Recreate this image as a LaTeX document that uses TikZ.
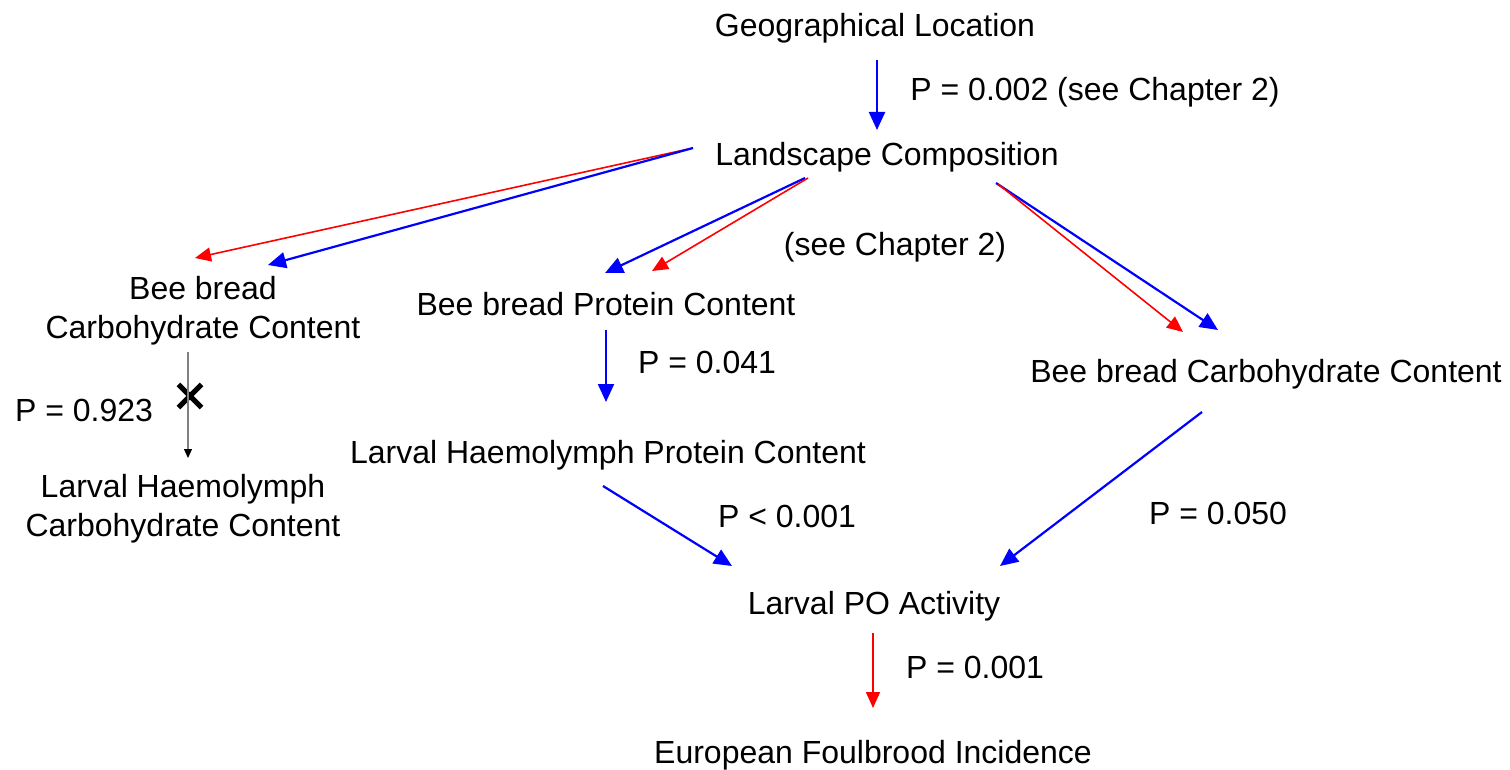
\documentclass[tikz,border=0pt]{standalone}
\usepackage{fontspec}
\setmainfont{Liberation Sans}
\usetikzlibrary{shapes,arrows.meta,positioning}

\begin{document}
\begin{tikzpicture}[x=0.5pt, y=-0.5pt]
			\tikzstyle{Label}	= [inner sep=0pt, anchor=base, font=\fontsize{16}{19.5}\selectfont]
			\tikzstyle{Block}	= [inner sep=0pt, align=center, font=\fontsize{16}{19.5}\selectfont]
			\tikzstyle{Cross}	= [cross out, draw, line width=2.6pt, minimum size=9pt, inner sep=0pt]
			\tikzstyle{Sig}		= [blue, line width=1.1pt, -{Triangle[length=9pt,width=8pt]}]
			\tikzstyle{Neg}		= [red, line width=0.8pt, -{Triangle[length=8pt,width=7pt]}]
			\tikzstyle{NS}		= [gray, line width=0.6pt, -{Triangle[length=4.5pt,width=4pt,black]}]

			\useasboundingbox (0,0) rectangle (1510,770);

			\node (geo)   at (875, 37)    [Label] {Geographical Location};
			\node (p002)  at (1095, 101)  [Label] {P = 0.002 (see Chapter 2)};
			\node (land)  at (887, 166)   [Label] {Landscape Composition};
			\node (lcarb) at (203, 310.5) [Block] {Bee bread\\Carbohydrate Content};
			\node (seech) at (895, 256)   [Label] {(see Chapter 2)};
			\node (prot)  at (606, 315)   [Label] {Bee bread Protein Content};
			\node (rcarb) at (1266, 382)  [Label] {Bee bread Carbohydrate Content};
			\node (p041)  at (707, 373)   [Label] {P = 0.041};
			\node (p923)  at (84, 421)    [Label] {P = 0.923};
			\node (lhp)   at (608, 463)   [Label] {Larval Haemolymph Protein Content};
			\node (lhc)   at (183, 508.5) [Block] {Larval Haemolymph\\Carbohydrate Content};
			\node (plt)   at (787, 527)   [Label] {P < 0.001};
			\node (p050)  at (1218, 524)  [Label] {P = 0.050};
			\node (po)    at (874, 614)   [Label] {Larval PO Activity};
			\node (p001)  at (975, 678)   [Label] {P = 0.001};
			\node (efb)   at (873, 763)   [Label] {European Foulbrood Incidence};
			\node (cross) at (190, 396)   [Cross] {};

			% landscape links
			\draw ([shift={(2,23)}]geo.base) to ([shift={(-10,-36)}]land.base) [Sig];
			\draw ([shift={(-194,-18)}]land.base) to ([shift={(-8,-52.5)}]lcarb.center) [Neg];
			\draw ([shift={(-194,-18)}]land.base) to ([shift={(65,-45.5)}]lcarb.center) [Sig];
			\draw ([shift={(-82,12)}]land.base) to ([shift={(-1,-42)}]prot.base) [Sig];
			\draw ([shift={(-79,12)}]land.base) to ([shift={(46,-44)}]prot.base) [Neg];
			\draw ([shift={(109,17)}]land.base) to ([shift={(-48,-52)}]rcarb.base) [Sig];
			\draw ([shift={(111,18)}]land.base) to ([shift={(-83,-50)}]rcarb.base) [Neg];

			% nutrition to immunity
			\draw ([shift={(-15,41.5)}]lcarb.center) to ([shift={(5,-50.5)}]lhc.center) [NS];
			\draw ([shift={(0,15)}]prot.base) to ([shift={(-2,-61)}]lhp.base) [Sig];
			\draw ([shift={(-5,23)}]lhp.base) to ([shift={(-142,-48)}]po.base) [Sig];
			\draw ([shift={(-64,30)}]rcarb.base) to ([shift={(126,-48)}]po.base) [Sig];
			\draw ([shift={(-1,19)}]po.base) to ([shift={(0,-55)}]efb.base) [Neg];
		\end{tikzpicture}
\end{document}
